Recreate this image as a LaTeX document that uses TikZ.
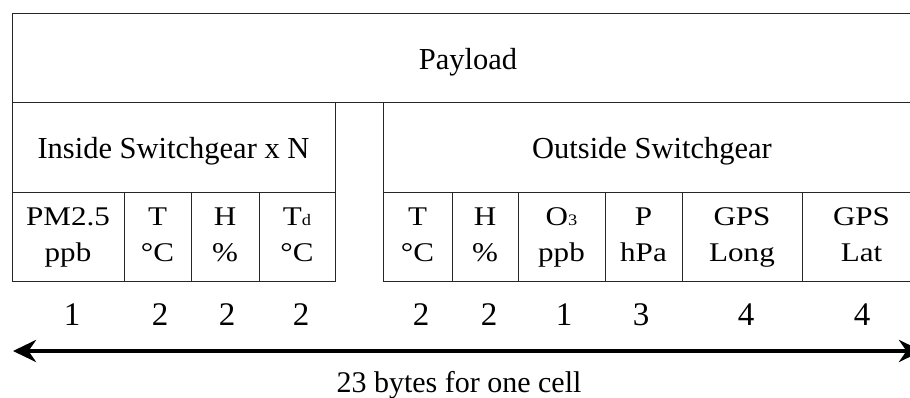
\documentclass[tikz,border=0pt]{standalone}
\usepackage{fontspec}
\setmainfont{Liberation Serif}
\newfontfamily\cellfamily[FakeStretch=1.15]{Liberation Serif}
\usetikzlibrary{arrows.meta}
\newcommand{\smallsub}[1]{{\fontsize{16}{16}\selectfont #1}}
\newcommand{\topstrut}{\rule{0pt}{20pt}}
\newcommand{\botstrut}{\rule[-7pt]{0pt}{7pt}}
\begin{document}
\begin{tikzpicture}[x=1pt,y=-1pt,
  boxcell/.style={draw=black!85, line width=1pt, rectangle, inner sep=0pt},
  hdrfont/.style={font=\fontsize{30.5}{34}\selectfont, inner sep=0pt, anchor=base},
  cellfont/.style={font=\cellfamily\fontsize{27}{36}\selectfont, inner sep=0pt, align=center},
  numfont/.style={font=\fontsize{33}{38}\selectfont, inner sep=0pt, anchor=base},
  lblfont/.style={font=\fontsize{30}{34}\selectfont, inner sep=0pt, anchor=base},
]
\useasboundingbox (0,0) rectangle (910,398);
\clip (0,0) rectangle (910,398);
\fill[white] (0,0) rectangle (910,398);
% header boxes
\node[boxcell, minimum width=909pt, minimum height=89pt] (pay) at (466.5,58.5) {};
\node[boxcell, minimum width=323pt, minimum height=90pt] (ins) at (173.5,148) {};
\node[boxcell, minimum width=538pt, minimum height=90pt] (outs) at (652,148) {};
\node[hdrfont] (payt) at (468,70) {Payload};
\node[hdrfont] (inst) at (173.5,159) {Inside Switchgear x N};
\node[hdrfont] (outst) at (652,159) {Outside Switchgear};
% inside cells
\node[boxcell, minimum width=112pt, minimum height=88pt] (c1) at (68,237) {};
\node[boxcell, minimum width=67pt, minimum height=88pt] (c2) at (157.5,237) {};
\node[boxcell, minimum width=68pt, minimum height=88pt] (c3) at (225,237) {};
\node[boxcell, minimum width=76pt, minimum height=88pt] (c4) at (297,237) {};
% outside cells
\node[boxcell, minimum width=69pt, minimum height=88pt] (c5) at (417.5,237) {};
\node[boxcell, minimum width=66pt, minimum height=88pt] (c6) at (485,237) {};
\node[boxcell, minimum width=87pt, minimum height=88pt] (c7) at (561.5,237) {};
\node[boxcell, minimum width=77pt, minimum height=88pt] (c8) at (643.5,237) {};
\node[boxcell, minimum width=120pt, minimum height=88pt] (c9) at (742,237) {};
\node[boxcell, minimum width=119pt, minimum height=88pt] (c10) at (861.5,237) {};
% cell texts
\node[cellfont] (t1) at (c1.center) {\topstrut PM2.5\\ppb\botstrut};
\node[cellfont] (t2) at (c2.center) {\topstrut T\\°C\botstrut};
\node[cellfont] (t3) at (c3.center) {\topstrut H\\\%\botstrut};
\node[cellfont] (t4) at (c4.center) {\topstrut T\smallsub{d}\\°C\botstrut};
\node[cellfont] (t5) at (c5.center) {\topstrut T\\°C\botstrut};
\node[cellfont] (t6) at (c6.center) {\topstrut H\\\%\botstrut};
\node[cellfont] (t7) at (c7.center) {\topstrut O\smallsub{3}\\ppb\botstrut};
\node[cellfont] (t8) at (c8.center) {\topstrut P\\hPa\botstrut};
\node[cellfont] (t9) at (c9.center) {\topstrut GPS\\Long\botstrut};
\node[cellfont] (t10) at (c10.center) {\topstrut GPS\\Lat\botstrut};
% byte counts
\node[numfont] (n1) at (72,325) {1};
\node[numfont] (n2) at (160,325) {2};
\node[numfont] (n3) at (227,325) {2};
\node[numfont] (n4) at (301,325) {2};
\node[numfont] (n5) at (421,325) {2};
\node[numfont] (n6) at (489,325) {2};
\node[numfont] (n7) at (564,325) {1};
\node[numfont] (n8) at (641,325) {3};
\node[numfont] (n9) at (746,325) {4};
\node[numfont] (n10) at (862,325) {4};
% arrow
\coordinate (la) at (13,351);
\coordinate (ra) at (922,351);
\draw[line width=4pt, {Stealth[length=23pt,width=22pt]}-{Stealth[length=23pt,width=22pt]}] (la) -- (ra);
\node[lblfont] (lbl) at (459,392) {23 bytes for one cell};
\end{tikzpicture}
\end{document}
